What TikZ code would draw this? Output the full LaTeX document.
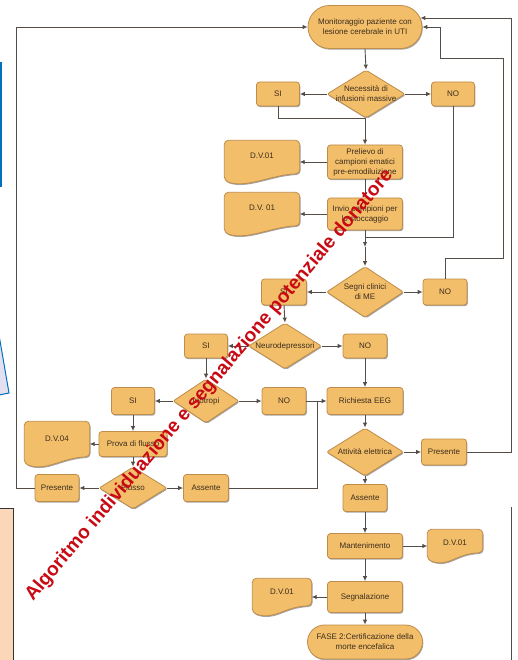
\documentclass[tikz,border=0pt]{standalone}
\usepackage{fontspec}
\setmainfont{Liberation Sans}
\usetikzlibrary{shapes.geometric,shadows,arrows.meta,calc}
\pgfdeclarelayer{background}
\pgfdeclarelayer{canvas}
\pgfsetlayers{canvas,background,main}
\definecolor{boxc}{RGB}{242,190,105}
\definecolor{bordc}{RGB}{190,140,75}
\definecolor{txtc}{RGB}{60,45,30}
\definecolor{linec}{RGB}{85,78,72}
\definecolor{redw}{RGB}{200,10,20}
\definecolor{blueart}{RGB}{0,112,192}
\definecolor{lav}{RGB}{228,224,242}
\definecolor{peach}{RGB}{251,214,184}
\newcommand\fs{\fontsize{8}{10}\selectfont}
\newcommand\docshape[1]{%
  \begin{pgfonlayer}{background}
  \path[docst,rounded corners=4pt] (#1.north west) -- (#1.north east) -- ([yshift=10pt]#1.south east)
    .. controls ([xshift=-28pt,yshift=9pt]#1.south east) and ([xshift=22pt,yshift=-5pt]#1.south west) ..
    ([yshift=3pt]#1.south west) -- cycle;
  \end{pgfonlayer}}
\begin{document}
\begin{tikzpicture}[x=1pt,y=-1pt,
  every node/.style={font=\fs, text=txtc},
  shd/.style={drop shadow={shadow xshift=0.8pt,shadow yshift=-1.2pt,opacity=0.35,fill=black}},
  box/.style={rectangle, rounded corners=3pt, draw=bordc, line width=0.8pt, fill=boxc, align=center, inner sep=1pt, shd},
  term/.style={box, rounded corners=#1},
  dia/.style={diamond, draw=bordc, line width=0.8pt, fill=boxc, inner sep=0pt, rounded corners=2pt, shd},
  dlab/.style={align=center, font=\fs, text=txtc},
  docn/.style={rectangle, inner sep=0pt},
  docst/.style={fill=boxc, draw=bordc, line width=0.8pt, shd},
  conn/.style={draw=linec, line width=0.9pt},
  arr/.style={conn, -{Latex[length=5pt,width=4.5pt]}},
  wm/.style={font=\fontsize{19.2}{21}\bfseries\selectfont, text=redw, rotate=49.8, anchor=base west, inner sep=0pt}
]
\begin{pgfonlayer}{canvas}
\fill[white] (0,0) rectangle (517,660);
\end{pgfonlayer}
\useasboundingbox (0,0) rectangle (517,660);

% side artefacts
\fill[blueart] (0,62) rectangle (2,187);
\filldraw[fill=lav, draw=blueart, line width=1pt] (-1,335) -- (9,393) -- (-1,395) -- cycle;
\filldraw[fill=peach, draw=black!80, line width=0.9pt] (-2,508) rectangle (13,662);
\draw[linec, line width=0.8pt] (511,507) -- (511,662);

% nodes
\node[term=21.5pt, minimum width=114pt, minimum height=43pt] (mon) at (365,27) {Monitoraggio paziente con\\lesione cerebrale in UTI};
\node[dia, minimum width=78pt, minimum height=48pt, label={[dlab]center:Necessità di\\infusioni massive}] (nec) at (366,94) {};
\node[box, minimum width=43pt, minimum height=24pt] (si1) at (278,94) {SI};
\node[box, minimum width=43pt, minimum height=24pt] (no1) at (453,94) {NO};
\node[box, minimum width=75pt, minimum height=34pt] (prel) at (365,162) {Prelievo di\\campioni ematici\\pre-emodiluizione};
\node[docn, minimum width=75pt, minimum height=43pt, label={[dlab,yshift=6pt]center:D.V.01}] (dv1) at (262,162) {};
\node[box, minimum width=75pt, minimum height=32pt] (inv) at (365,214) {Invio campioni per\\lo stoccaggio};
\node[docn, minimum width=75pt, minimum height=43pt, label={[dlab,yshift=6pt]center:D.V. 01}] (dv2) at (262,214) {};
\node[dia, minimum width=77pt, minimum height=51pt, label={[dlab]center:Segni clinici\\di ME}] (segni) at (365,292) {};
\node[box, minimum width=45pt, minimum height=26pt] (si2) at (284,292) {SI};
\node[box, minimum width=44pt, minimum height=26pt] (no2) at (445,292) {NO};
\node[dia, minimum width=73pt, minimum height=46pt, label={[dlab]center:Neurodepressori}] (neuro) at (285,346) {};
\node[box, minimum width=43pt, minimum height=24pt] (si3) at (206,346) {SI};
\node[box, minimum width=44pt, minimum height=24pt] (no3) at (365,346) {NO};
\node[dia, minimum width=66pt, minimum height=44pt, label={[dlab]center:Inotropi}] (ino) at (206,401) {};
\node[box, minimum width=43pt, minimum height=27pt] (si4) at (133,401) {SI};
\node[box, minimum width=44pt, minimum height=27pt] (no4) at (284,401) {NO};
\node[box, minimum width=76pt, minimum height=27pt] (rich) at (365,401) {Richiesta EEG};
\node[box, minimum width=68pt, minimum height=25pt] (prova) at (133,444) {Prova di flusso};
\node[docn, minimum width=65pt, minimum height=45pt, label={[dlab,yshift=5pt]center:D.V.04}] (dv4) at (57,444) {};
\node[dia, minimum width=68pt, minimum height=42pt, label={[dlab]center:Flusso}] (flusso) at (133,488) {};
\node[box, minimum width=44pt, minimum height=27pt] (pres1) at (57,488) {Presente};
\node[box, minimum width=45pt, minimum height=27pt] (ass1) at (206,488) {Assente};
\node[dia, minimum width=77pt, minimum height=48pt, label={[dlab]center:Attività elettrica}] (att) at (365,452) {};
\node[box, minimum width=45pt, minimum height=26pt] (pres2) at (444,452) {Presente};
\node[box, minimum width=44pt, minimum height=27pt] (ass2) at (365,498) {Assente};
\node[box, minimum width=75pt, minimum height=25pt] (mant) at (365,546) {Mantenimento};
\node[docn, minimum width=55pt, minimum height=33pt, label={[dlab,yshift=3pt]center:D.V.01}] (dv5) at (455,546) {};
\node[box, minimum width=75pt, minimum height=31pt] (segn) at (365,597) {Segnalazione};
\node[docn, minimum width=59pt, minimum height=37pt, label={[dlab,yshift=5pt]center:D.V.01}] (dv6) at (282,597) {};
\node[term=17pt, minimum width=115pt, minimum height=34pt] (fase) at (365,642) {FASE 2:Certificazione della\\morte encefalica};

\docshape{dv1}
\docshape{dv2}
\docshape{dv4}
\docshape{dv5}
\docshape{dv6}

% junction coordinates
\coordinate (j0) at (365,118);
\coordinate (j1) at (365,237);
\coordinate (j2) at (365,247);
\coordinate (ra) at (503,258);
\coordinate (rb) at (440,58);
\coordinate (lx) at (16,27);
\coordinate (rx) at (511,18);
\coordinate (ax) at (317,401);

% connectors
\draw[arr] (mon.south) -- (nec.north);
\draw[arr] (nec.west) -- (si1.east);
\draw[arr] (nec.east) -- (no1.west);
\draw[arr] (si1.south) |- (j0) -- (prel.north);
\draw[conn] (no1.south) |- (j1);
\draw[arr] (prel.west) -- (prel.west -| dv1.east);
\draw[arr] (prel.south) -- (inv.north);
\draw[arr] (inv.west) -- (inv.west -| dv2.east);
\draw[arr] (inv.south) -- (j2);
\draw[arr] (j2) -- (segni.north);
\draw[arr] (segni.west) -- (si2.east);
\draw[arr] (segni.east) -- (no2.west);
\draw[arr] (no2.north) |- (ra) |- (rb) |- (mon.east);
\draw[arr] (si2.south) -- (neuro.north);
\draw[arr] (neuro.west) -- (si3.east);
\draw[arr] (neuro.east) -- (no3.west);
\draw[arr] (no3.south) -- (rich.north);
\draw[arr] (si3.south) -- (ino.north);
\draw[arr] (ino.west) -- (si4.east);
\draw[arr] (ino.east) -- (no4.west);
\draw[arr] (no4.east) -- (rich.west);
\draw[arr] (si4.south) -- (prova.north);
\draw[arr] (prova.west) -- (prova.west -| dv4.east);
\draw[arr] (prova.south) -- (flusso.north);
\draw[arr] (flusso.west) -- (pres1.east);
\draw[arr] (flusso.east) -- (ass1.west);
\draw[conn] (ass1.east) -| (ax);
\draw[arr] (pres1.west) -| (lx) -- (mon.west);
\draw[arr] (rich.south) -- (att.north);
\draw[arr] (att.east) -- (pres2.west);
\draw[arr] (pres2.east) -| (rx) -- ([xshift=-2pt,yshift=9pt]mon.east);
\draw[arr] (att.south) -- (ass2.north);
\draw[arr] (ass2.south) -- (mant.north);
\draw[arr] (mant.east) -- (mant.east -| dv5.west);
\draw[arr] (mant.south) -- (segn.north);
\draw[arr] (segn.west) -- (segn.west -| dv6.east);
\draw[arr] (segn.south) -- (fase.north);

% watermark
\node[wm] (wmk) at (33,602) {Algoritmo individuazione e segnalazione potenziale donatore};
\end{tikzpicture}
\end{document}
